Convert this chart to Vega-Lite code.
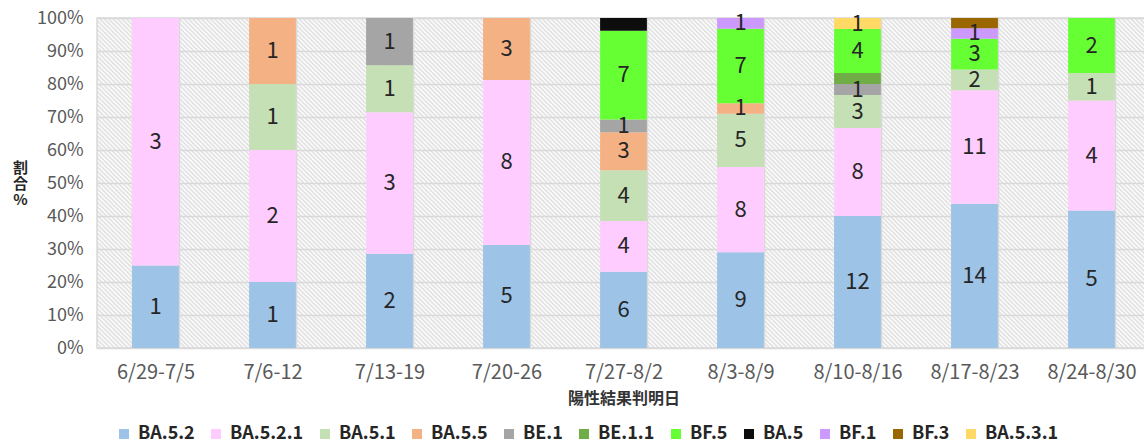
{
  "$schema": "https://vega.github.io/schema/vega-lite/v6.json",
  "width": 1053,
  "height": 330,
  "autosize": {"type": "none"},
  "padding": {"left": 97, "top": 18, "right": -6, "bottom": 96},
  "config": {
    "font": "Noto Sans CJK JP",
    "view": {
      "stroke": "#d9d9d9",
      "strokeWidth": 1.5,
      "fill": {"gradient": "linear", "x1": 0, "y1": 1, "x2": 1.19593, "y2": 0.625204,
        "stops": [
{"offset":0,"color":"#ddd"},{"offset":0.0016,"color":"#fff"},{"offset":0.0032,"color":"#ddd"},{"offset":0.0048,"color":"#fff"},{"offset":0.0064,"color":"#ddd"},{"offset":0.008,"color":"#fff"},{"offset":0.0096,"color":"#ddd"},{"offset":0.0112,"color":"#fff"},{"offset":0.0128,"color":"#ddd"},{"offset":0.0144,"color":"#fff"},
{"offset":0.016,"color":"#ddd"},{"offset":0.0176,"color":"#fff"},{"offset":0.0192,"color":"#ddd"},{"offset":0.0208,"color":"#fff"},{"offset":0.0224,"color":"#ddd"},{"offset":0.024,"color":"#fff"},{"offset":0.0256,"color":"#ddd"},{"offset":0.0272,"color":"#fff"},{"offset":0.0288,"color":"#ddd"},{"offset":0.0304,"color":"#fff"},
{"offset":0.032,"color":"#ddd"},{"offset":0.0336,"color":"#fff"},{"offset":0.0352,"color":"#ddd"},{"offset":0.0368,"color":"#fff"},{"offset":0.0384,"color":"#ddd"},{"offset":0.04,"color":"#fff"},{"offset":0.0416,"color":"#ddd"},{"offset":0.0432,"color":"#fff"},{"offset":0.0448,"color":"#ddd"},{"offset":0.0464,"color":"#fff"},
{"offset":0.048,"color":"#ddd"},{"offset":0.0496,"color":"#fff"},{"offset":0.0512,"color":"#ddd"},{"offset":0.0528,"color":"#fff"},{"offset":0.0544,"color":"#ddd"},{"offset":0.056,"color":"#fff"},{"offset":0.0576,"color":"#ddd"},{"offset":0.0592,"color":"#fff"},{"offset":0.0608,"color":"#ddd"},{"offset":0.0624,"color":"#fff"},
{"offset":0.064,"color":"#ddd"},{"offset":0.0656,"color":"#fff"},{"offset":0.0672,"color":"#ddd"},{"offset":0.0688,"color":"#fff"},{"offset":0.0704,"color":"#ddd"},{"offset":0.072,"color":"#fff"},{"offset":0.0736,"color":"#ddd"},{"offset":0.0752,"color":"#fff"},{"offset":0.0768,"color":"#ddd"},{"offset":0.0784,"color":"#fff"},
{"offset":0.08,"color":"#ddd"},{"offset":0.0816,"color":"#fff"},{"offset":0.0832,"color":"#ddd"},{"offset":0.0848,"color":"#fff"},{"offset":0.0864,"color":"#ddd"},{"offset":0.088,"color":"#fff"},{"offset":0.0896,"color":"#ddd"},{"offset":0.0912,"color":"#fff"},{"offset":0.0928,"color":"#ddd"},{"offset":0.0944,"color":"#fff"},
{"offset":0.096,"color":"#ddd"},{"offset":0.0976,"color":"#fff"},{"offset":0.0992,"color":"#ddd"},{"offset":0.1008,"color":"#fff"},{"offset":0.1024,"color":"#ddd"},{"offset":0.104,"color":"#fff"},{"offset":0.1056,"color":"#ddd"},{"offset":0.1072,"color":"#fff"},{"offset":0.1088,"color":"#ddd"},{"offset":0.1104,"color":"#fff"},
{"offset":0.112,"color":"#ddd"},{"offset":0.1136,"color":"#fff"},{"offset":0.1152,"color":"#ddd"},{"offset":0.1168,"color":"#fff"},{"offset":0.1184,"color":"#ddd"},{"offset":0.12,"color":"#fff"},{"offset":0.1216,"color":"#ddd"},{"offset":0.1232,"color":"#fff"},{"offset":0.1248,"color":"#ddd"},{"offset":0.1264,"color":"#fff"},
{"offset":0.128,"color":"#ddd"},{"offset":0.1296,"color":"#fff"},{"offset":0.1312,"color":"#ddd"},{"offset":0.1328,"color":"#fff"},{"offset":0.1344,"color":"#ddd"},{"offset":0.136,"color":"#fff"},{"offset":0.1376,"color":"#ddd"},{"offset":0.1392,"color":"#fff"},{"offset":0.1408,"color":"#ddd"},{"offset":0.1424,"color":"#fff"},
{"offset":0.144,"color":"#ddd"},{"offset":0.1456,"color":"#fff"},{"offset":0.1472,"color":"#ddd"},{"offset":0.1488,"color":"#fff"},{"offset":0.1504,"color":"#ddd"},{"offset":0.152,"color":"#fff"},{"offset":0.1536,"color":"#ddd"},{"offset":0.1552,"color":"#fff"},{"offset":0.1568,"color":"#ddd"},{"offset":0.1584,"color":"#fff"},
{"offset":0.16,"color":"#ddd"},{"offset":0.1616,"color":"#fff"},{"offset":0.1632,"color":"#ddd"},{"offset":0.1648,"color":"#fff"},{"offset":0.1664,"color":"#ddd"},{"offset":0.168,"color":"#fff"},{"offset":0.1696,"color":"#ddd"},{"offset":0.1712,"color":"#fff"},{"offset":0.1728,"color":"#ddd"},{"offset":0.1744,"color":"#fff"},
{"offset":0.176,"color":"#ddd"},{"offset":0.1776,"color":"#fff"},{"offset":0.1792,"color":"#ddd"},{"offset":0.1808,"color":"#fff"},{"offset":0.1824,"color":"#ddd"},{"offset":0.184,"color":"#fff"},{"offset":0.1856,"color":"#ddd"},{"offset":0.1872,"color":"#fff"},{"offset":0.1888,"color":"#ddd"},{"offset":0.1904,"color":"#fff"},
{"offset":0.192,"color":"#ddd"},{"offset":0.1936,"color":"#fff"},{"offset":0.1952,"color":"#ddd"},{"offset":0.1968,"color":"#fff"},{"offset":0.1984,"color":"#ddd"},{"offset":0.2,"color":"#fff"},{"offset":0.2016,"color":"#ddd"},{"offset":0.2032,"color":"#fff"},{"offset":0.2048,"color":"#ddd"},{"offset":0.2064,"color":"#fff"},
{"offset":0.208,"color":"#ddd"},{"offset":0.2096,"color":"#fff"},{"offset":0.2112,"color":"#ddd"},{"offset":0.2128,"color":"#fff"},{"offset":0.2144,"color":"#ddd"},{"offset":0.216,"color":"#fff"},{"offset":0.2176,"color":"#ddd"},{"offset":0.2192,"color":"#fff"},{"offset":0.2208,"color":"#ddd"},{"offset":0.2224,"color":"#fff"},
{"offset":0.224,"color":"#ddd"},{"offset":0.2256,"color":"#fff"},{"offset":0.2272,"color":"#ddd"},{"offset":0.2288,"color":"#fff"},{"offset":0.2304,"color":"#ddd"},{"offset":0.232,"color":"#fff"},{"offset":0.2336,"color":"#ddd"},{"offset":0.2352,"color":"#fff"},{"offset":0.2368,"color":"#ddd"},{"offset":0.2384,"color":"#fff"},
{"offset":0.24,"color":"#ddd"},{"offset":0.2416,"color":"#fff"},{"offset":0.2432,"color":"#ddd"},{"offset":0.2448,"color":"#fff"},{"offset":0.2464,"color":"#ddd"},{"offset":0.248,"color":"#fff"},{"offset":0.2496,"color":"#ddd"},{"offset":0.2512,"color":"#fff"},{"offset":0.2528,"color":"#ddd"},{"offset":0.2544,"color":"#fff"},
{"offset":0.256,"color":"#ddd"},{"offset":0.2576,"color":"#fff"},{"offset":0.2592,"color":"#ddd"},{"offset":0.2608,"color":"#fff"},{"offset":0.2624,"color":"#ddd"},{"offset":0.264,"color":"#fff"},{"offset":0.2656,"color":"#ddd"},{"offset":0.2672,"color":"#fff"},{"offset":0.2688,"color":"#ddd"},{"offset":0.2704,"color":"#fff"},
{"offset":0.272,"color":"#ddd"},{"offset":0.2736,"color":"#fff"},{"offset":0.2752,"color":"#ddd"},{"offset":0.2768,"color":"#fff"},{"offset":0.2784,"color":"#ddd"},{"offset":0.28,"color":"#fff"},{"offset":0.2816,"color":"#ddd"},{"offset":0.2832,"color":"#fff"},{"offset":0.2848,"color":"#ddd"},{"offset":0.2864,"color":"#fff"},
{"offset":0.288,"color":"#ddd"},{"offset":0.2896,"color":"#fff"},{"offset":0.2912,"color":"#ddd"},{"offset":0.2928,"color":"#fff"},{"offset":0.2944,"color":"#ddd"},{"offset":0.296,"color":"#fff"},{"offset":0.2976,"color":"#ddd"},{"offset":0.2992,"color":"#fff"},{"offset":0.3008,"color":"#ddd"},{"offset":0.3024,"color":"#fff"},
{"offset":0.304,"color":"#ddd"},{"offset":0.3056,"color":"#fff"},{"offset":0.3072,"color":"#ddd"},{"offset":0.3088,"color":"#fff"},{"offset":0.3104,"color":"#ddd"},{"offset":0.312,"color":"#fff"},{"offset":0.3136,"color":"#ddd"},{"offset":0.3152,"color":"#fff"},{"offset":0.3168,"color":"#ddd"},{"offset":0.3184,"color":"#fff"},
{"offset":0.32,"color":"#ddd"},{"offset":0.3216,"color":"#fff"},{"offset":0.3232,"color":"#ddd"},{"offset":0.3248,"color":"#fff"},{"offset":0.3264,"color":"#ddd"},{"offset":0.328,"color":"#fff"},{"offset":0.3296,"color":"#ddd"},{"offset":0.3312,"color":"#fff"},{"offset":0.3328,"color":"#ddd"},{"offset":0.3344,"color":"#fff"},
{"offset":0.336,"color":"#ddd"},{"offset":0.3376,"color":"#fff"},{"offset":0.3392,"color":"#ddd"},{"offset":0.3408,"color":"#fff"},{"offset":0.3424,"color":"#ddd"},{"offset":0.344,"color":"#fff"},{"offset":0.3456,"color":"#ddd"},{"offset":0.3472,"color":"#fff"},{"offset":0.3488,"color":"#ddd"},{"offset":0.3504,"color":"#fff"},
{"offset":0.352,"color":"#ddd"},{"offset":0.3536,"color":"#fff"},{"offset":0.3552,"color":"#ddd"},{"offset":0.3568,"color":"#fff"},{"offset":0.3584,"color":"#ddd"},{"offset":0.36,"color":"#fff"},{"offset":0.3616,"color":"#ddd"},{"offset":0.3632,"color":"#fff"},{"offset":0.3648,"color":"#ddd"},{"offset":0.3664,"color":"#fff"},
{"offset":0.368,"color":"#ddd"},{"offset":0.3696,"color":"#fff"},{"offset":0.3712,"color":"#ddd"},{"offset":0.3728,"color":"#fff"},{"offset":0.3744,"color":"#ddd"},{"offset":0.376,"color":"#fff"},{"offset":0.3776,"color":"#ddd"},{"offset":0.3792,"color":"#fff"},{"offset":0.3808,"color":"#ddd"},{"offset":0.3824,"color":"#fff"},
{"offset":0.384,"color":"#ddd"},{"offset":0.3856,"color":"#fff"},{"offset":0.3872,"color":"#ddd"},{"offset":0.3888,"color":"#fff"},{"offset":0.3904,"color":"#ddd"},{"offset":0.392,"color":"#fff"},{"offset":0.3936,"color":"#ddd"},{"offset":0.3952,"color":"#fff"},{"offset":0.3968,"color":"#ddd"},{"offset":0.3984,"color":"#fff"},
{"offset":0.4,"color":"#ddd"},{"offset":0.4016,"color":"#fff"},{"offset":0.4032,"color":"#ddd"},{"offset":0.4048,"color":"#fff"},{"offset":0.4064,"color":"#ddd"},{"offset":0.408,"color":"#fff"},{"offset":0.4096,"color":"#ddd"},{"offset":0.4112,"color":"#fff"},{"offset":0.4128,"color":"#ddd"},{"offset":0.4144,"color":"#fff"},
{"offset":0.416,"color":"#ddd"},{"offset":0.4176,"color":"#fff"},{"offset":0.4192,"color":"#ddd"},{"offset":0.4208,"color":"#fff"},{"offset":0.4224,"color":"#ddd"},{"offset":0.424,"color":"#fff"},{"offset":0.4256,"color":"#ddd"},{"offset":0.4272,"color":"#fff"},{"offset":0.4288,"color":"#ddd"},{"offset":0.4304,"color":"#fff"},
{"offset":0.432,"color":"#ddd"},{"offset":0.4336,"color":"#fff"},{"offset":0.4352,"color":"#ddd"},{"offset":0.4368,"color":"#fff"},{"offset":0.4384,"color":"#ddd"},{"offset":0.44,"color":"#fff"},{"offset":0.4416,"color":"#ddd"},{"offset":0.4432,"color":"#fff"},{"offset":0.4448,"color":"#ddd"},{"offset":0.4464,"color":"#fff"},
{"offset":0.448,"color":"#ddd"},{"offset":0.4496,"color":"#fff"},{"offset":0.4512,"color":"#ddd"},{"offset":0.4528,"color":"#fff"},{"offset":0.4544,"color":"#ddd"},{"offset":0.456,"color":"#fff"},{"offset":0.4576,"color":"#ddd"},{"offset":0.4592,"color":"#fff"},{"offset":0.4608,"color":"#ddd"},{"offset":0.4624,"color":"#fff"},
{"offset":0.464,"color":"#ddd"},{"offset":0.4656,"color":"#fff"},{"offset":0.4672,"color":"#ddd"},{"offset":0.4688,"color":"#fff"},{"offset":0.4704,"color":"#ddd"},{"offset":0.472,"color":"#fff"},{"offset":0.4736,"color":"#ddd"},{"offset":0.4752,"color":"#fff"},{"offset":0.4768,"color":"#ddd"},{"offset":0.4784,"color":"#fff"},
{"offset":0.48,"color":"#ddd"},{"offset":0.4816,"color":"#fff"},{"offset":0.4832,"color":"#ddd"},{"offset":0.4848,"color":"#fff"},{"offset":0.4864,"color":"#ddd"},{"offset":0.488,"color":"#fff"},{"offset":0.4896,"color":"#ddd"},{"offset":0.4912,"color":"#fff"},{"offset":0.4928,"color":"#ddd"},{"offset":0.4944,"color":"#fff"},
{"offset":0.496,"color":"#ddd"},{"offset":0.4976,"color":"#fff"},{"offset":0.4992,"color":"#ddd"},{"offset":0.5008,"color":"#fff"},{"offset":0.5024,"color":"#ddd"},{"offset":0.504,"color":"#fff"},{"offset":0.5056,"color":"#ddd"},{"offset":0.5072,"color":"#fff"},{"offset":0.5088,"color":"#ddd"},{"offset":0.5104,"color":"#fff"},
{"offset":0.512,"color":"#ddd"},{"offset":0.5136,"color":"#fff"},{"offset":0.5152,"color":"#ddd"},{"offset":0.5168,"color":"#fff"},{"offset":0.5184,"color":"#ddd"},{"offset":0.52,"color":"#fff"},{"offset":0.5216,"color":"#ddd"},{"offset":0.5232,"color":"#fff"},{"offset":0.5248,"color":"#ddd"},{"offset":0.5264,"color":"#fff"},
{"offset":0.528,"color":"#ddd"},{"offset":0.5296,"color":"#fff"},{"offset":0.5312,"color":"#ddd"},{"offset":0.5328,"color":"#fff"},{"offset":0.5344,"color":"#ddd"},{"offset":0.536,"color":"#fff"},{"offset":0.5376,"color":"#ddd"},{"offset":0.5392,"color":"#fff"},{"offset":0.5408,"color":"#ddd"},{"offset":0.5424,"color":"#fff"},
{"offset":0.544,"color":"#ddd"},{"offset":0.5456,"color":"#fff"},{"offset":0.5472,"color":"#ddd"},{"offset":0.5488,"color":"#fff"},{"offset":0.5504,"color":"#ddd"},{"offset":0.552,"color":"#fff"},{"offset":0.5536,"color":"#ddd"},{"offset":0.5552,"color":"#fff"},{"offset":0.5568,"color":"#ddd"},{"offset":0.5584,"color":"#fff"},
{"offset":0.56,"color":"#ddd"},{"offset":0.5616,"color":"#fff"},{"offset":0.5632,"color":"#ddd"},{"offset":0.5648,"color":"#fff"},{"offset":0.5664,"color":"#ddd"},{"offset":0.568,"color":"#fff"},{"offset":0.5696,"color":"#ddd"},{"offset":0.5712,"color":"#fff"},{"offset":0.5728,"color":"#ddd"},{"offset":0.5744,"color":"#fff"},
{"offset":0.576,"color":"#ddd"},{"offset":0.5776,"color":"#fff"},{"offset":0.5792,"color":"#ddd"},{"offset":0.5808,"color":"#fff"},{"offset":0.5824,"color":"#ddd"},{"offset":0.584,"color":"#fff"},{"offset":0.5856,"color":"#ddd"},{"offset":0.5872,"color":"#fff"},{"offset":0.5888,"color":"#ddd"},{"offset":0.5904,"color":"#fff"},
{"offset":0.592,"color":"#ddd"},{"offset":0.5936,"color":"#fff"},{"offset":0.5952,"color":"#ddd"},{"offset":0.5968,"color":"#fff"},{"offset":0.5984,"color":"#ddd"},{"offset":0.6,"color":"#fff"},{"offset":0.6016,"color":"#ddd"},{"offset":0.6032,"color":"#fff"},{"offset":0.6048,"color":"#ddd"},{"offset":0.6064,"color":"#fff"},
{"offset":0.608,"color":"#ddd"},{"offset":0.6096,"color":"#fff"},{"offset":0.6112,"color":"#ddd"},{"offset":0.6128,"color":"#fff"},{"offset":0.6144,"color":"#ddd"},{"offset":0.616,"color":"#fff"},{"offset":0.6176,"color":"#ddd"},{"offset":0.6192,"color":"#fff"},{"offset":0.6208,"color":"#ddd"},{"offset":0.6224,"color":"#fff"},
{"offset":0.624,"color":"#ddd"},{"offset":0.6256,"color":"#fff"},{"offset":0.6272,"color":"#ddd"},{"offset":0.6288,"color":"#fff"},{"offset":0.6304,"color":"#ddd"},{"offset":0.632,"color":"#fff"},{"offset":0.6336,"color":"#ddd"},{"offset":0.6352,"color":"#fff"},{"offset":0.6368,"color":"#ddd"},{"offset":0.6384,"color":"#fff"},
{"offset":0.64,"color":"#ddd"},{"offset":0.6416,"color":"#fff"},{"offset":0.6432,"color":"#ddd"},{"offset":0.6448,"color":"#fff"},{"offset":0.6464,"color":"#ddd"},{"offset":0.648,"color":"#fff"},{"offset":0.6496,"color":"#ddd"},{"offset":0.6512,"color":"#fff"},{"offset":0.6528,"color":"#ddd"},{"offset":0.6544,"color":"#fff"},
{"offset":0.656,"color":"#ddd"},{"offset":0.6576,"color":"#fff"},{"offset":0.6592,"color":"#ddd"},{"offset":0.6608,"color":"#fff"},{"offset":0.6624,"color":"#ddd"},{"offset":0.664,"color":"#fff"},{"offset":0.6656,"color":"#ddd"},{"offset":0.6672,"color":"#fff"},{"offset":0.6688,"color":"#ddd"},{"offset":0.6704,"color":"#fff"},
{"offset":0.672,"color":"#ddd"},{"offset":0.6736,"color":"#fff"},{"offset":0.6752,"color":"#ddd"},{"offset":0.6768,"color":"#fff"},{"offset":0.6784,"color":"#ddd"},{"offset":0.68,"color":"#fff"},{"offset":0.6816,"color":"#ddd"},{"offset":0.6832,"color":"#fff"},{"offset":0.6848,"color":"#ddd"},{"offset":0.6864,"color":"#fff"},
{"offset":0.688,"color":"#ddd"},{"offset":0.6896,"color":"#fff"},{"offset":0.6912,"color":"#ddd"},{"offset":0.6928,"color":"#fff"},{"offset":0.6944,"color":"#ddd"},{"offset":0.696,"color":"#fff"},{"offset":0.6976,"color":"#ddd"},{"offset":0.6992,"color":"#fff"},{"offset":0.7008,"color":"#ddd"},{"offset":0.7024,"color":"#fff"},
{"offset":0.704,"color":"#ddd"},{"offset":0.7056,"color":"#fff"},{"offset":0.7072,"color":"#ddd"},{"offset":0.7088,"color":"#fff"},{"offset":0.7104,"color":"#ddd"},{"offset":0.712,"color":"#fff"},{"offset":0.7136,"color":"#ddd"},{"offset":0.7152,"color":"#fff"},{"offset":0.7168,"color":"#ddd"},{"offset":0.7184,"color":"#fff"},
{"offset":0.72,"color":"#ddd"},{"offset":0.7216,"color":"#fff"},{"offset":0.7232,"color":"#ddd"},{"offset":0.7248,"color":"#fff"},{"offset":0.7264,"color":"#ddd"},{"offset":0.728,"color":"#fff"},{"offset":0.7296,"color":"#ddd"},{"offset":0.7312,"color":"#fff"},{"offset":0.7328,"color":"#ddd"},{"offset":0.7344,"color":"#fff"},
{"offset":0.736,"color":"#ddd"},{"offset":0.7376,"color":"#fff"},{"offset":0.7392,"color":"#ddd"},{"offset":0.7408,"color":"#fff"},{"offset":0.7424,"color":"#ddd"},{"offset":0.744,"color":"#fff"},{"offset":0.7456,"color":"#ddd"},{"offset":0.7472,"color":"#fff"},{"offset":0.7488,"color":"#ddd"},{"offset":0.7504,"color":"#fff"},
{"offset":0.752,"color":"#ddd"},{"offset":0.7536,"color":"#fff"},{"offset":0.7552,"color":"#ddd"},{"offset":0.7568,"color":"#fff"},{"offset":0.7584,"color":"#ddd"},{"offset":0.76,"color":"#fff"},{"offset":0.7616,"color":"#ddd"},{"offset":0.7632,"color":"#fff"},{"offset":0.7648,"color":"#ddd"},{"offset":0.7664,"color":"#fff"},
{"offset":0.768,"color":"#ddd"},{"offset":0.7696,"color":"#fff"},{"offset":0.7712,"color":"#ddd"},{"offset":0.7728,"color":"#fff"},{"offset":0.7744,"color":"#ddd"},{"offset":0.776,"color":"#fff"},{"offset":0.7776,"color":"#ddd"},{"offset":0.7792,"color":"#fff"},{"offset":0.7808,"color":"#ddd"},{"offset":0.7824,"color":"#fff"},
{"offset":0.784,"color":"#ddd"},{"offset":0.7856,"color":"#fff"},{"offset":0.7872,"color":"#ddd"},{"offset":0.7888,"color":"#fff"},{"offset":0.7904,"color":"#ddd"},{"offset":0.792,"color":"#fff"},{"offset":0.7936,"color":"#ddd"},{"offset":0.7952,"color":"#fff"},{"offset":0.7968,"color":"#ddd"},{"offset":0.7984,"color":"#fff"},
{"offset":0.8,"color":"#ddd"},{"offset":0.8016,"color":"#fff"},{"offset":0.8032,"color":"#ddd"},{"offset":0.8048,"color":"#fff"},{"offset":0.8064,"color":"#ddd"},{"offset":0.808,"color":"#fff"},{"offset":0.8096,"color":"#ddd"},{"offset":0.8112,"color":"#fff"},{"offset":0.8128,"color":"#ddd"},{"offset":0.8144,"color":"#fff"},
{"offset":0.816,"color":"#ddd"},{"offset":0.8176,"color":"#fff"},{"offset":0.8192,"color":"#ddd"},{"offset":0.8208,"color":"#fff"},{"offset":0.8224,"color":"#ddd"},{"offset":0.824,"color":"#fff"},{"offset":0.8256,"color":"#ddd"},{"offset":0.8272,"color":"#fff"},{"offset":0.8288,"color":"#ddd"},{"offset":0.8304,"color":"#fff"},
{"offset":0.832,"color":"#ddd"},{"offset":0.8336,"color":"#fff"},{"offset":0.8352,"color":"#ddd"},{"offset":0.8368,"color":"#fff"},{"offset":0.8384,"color":"#ddd"},{"offset":0.84,"color":"#fff"},{"offset":0.8416,"color":"#ddd"},{"offset":0.8432,"color":"#fff"},{"offset":0.8448,"color":"#ddd"},{"offset":0.8464,"color":"#fff"},
{"offset":0.848,"color":"#ddd"},{"offset":0.8496,"color":"#fff"},{"offset":0.8512,"color":"#ddd"},{"offset":0.8528,"color":"#fff"},{"offset":0.8544,"color":"#ddd"},{"offset":0.856,"color":"#fff"},{"offset":0.8576,"color":"#ddd"},{"offset":0.8592,"color":"#fff"},{"offset":0.8608,"color":"#ddd"},{"offset":0.8624,"color":"#fff"},
{"offset":0.864,"color":"#ddd"},{"offset":0.8656,"color":"#fff"},{"offset":0.8672,"color":"#ddd"},{"offset":0.8688,"color":"#fff"},{"offset":0.8704,"color":"#ddd"},{"offset":0.872,"color":"#fff"},{"offset":0.8736,"color":"#ddd"},{"offset":0.8752,"color":"#fff"},{"offset":0.8768,"color":"#ddd"},{"offset":0.8784,"color":"#fff"},
{"offset":0.88,"color":"#ddd"},{"offset":0.8816,"color":"#fff"},{"offset":0.8832,"color":"#ddd"},{"offset":0.8848,"color":"#fff"},{"offset":0.8864,"color":"#ddd"},{"offset":0.888,"color":"#fff"},{"offset":0.8896,"color":"#ddd"},{"offset":0.8912,"color":"#fff"},{"offset":0.8928,"color":"#ddd"},{"offset":0.8944,"color":"#fff"},
{"offset":0.896,"color":"#ddd"},{"offset":0.8976,"color":"#fff"},{"offset":0.8992,"color":"#ddd"},{"offset":0.9008,"color":"#fff"},{"offset":0.9024,"color":"#ddd"},{"offset":0.904,"color":"#fff"},{"offset":0.9056,"color":"#ddd"},{"offset":0.9072,"color":"#fff"},{"offset":0.9088,"color":"#ddd"},{"offset":0.9104,"color":"#fff"},
{"offset":0.912,"color":"#ddd"},{"offset":0.9136,"color":"#fff"},{"offset":0.9152,"color":"#ddd"},{"offset":0.9168,"color":"#fff"},{"offset":0.9184,"color":"#ddd"},{"offset":0.92,"color":"#fff"},{"offset":0.9216,"color":"#ddd"},{"offset":0.9232,"color":"#fff"},{"offset":0.9248,"color":"#ddd"},{"offset":0.9264,"color":"#fff"},
{"offset":0.928,"color":"#ddd"},{"offset":0.9296,"color":"#fff"},{"offset":0.9312,"color":"#ddd"},{"offset":0.9328,"color":"#fff"},{"offset":0.9344,"color":"#ddd"},{"offset":0.936,"color":"#fff"},{"offset":0.9376,"color":"#ddd"},{"offset":0.9392,"color":"#fff"},{"offset":0.9408,"color":"#ddd"},{"offset":0.9424,"color":"#fff"},
{"offset":0.944,"color":"#ddd"},{"offset":0.9456,"color":"#fff"},{"offset":0.9472,"color":"#ddd"},{"offset":0.9488,"color":"#fff"},{"offset":0.9504,"color":"#ddd"},{"offset":0.952,"color":"#fff"},{"offset":0.9536,"color":"#ddd"},{"offset":0.9552,"color":"#fff"},{"offset":0.9568,"color":"#ddd"},{"offset":0.9584,"color":"#fff"},
{"offset":0.96,"color":"#ddd"},{"offset":0.9616,"color":"#fff"},{"offset":0.9632,"color":"#ddd"},{"offset":0.9648,"color":"#fff"},{"offset":0.9664,"color":"#ddd"},{"offset":0.968,"color":"#fff"},{"offset":0.9696,"color":"#ddd"},{"offset":0.9712,"color":"#fff"},{"offset":0.9728,"color":"#ddd"},{"offset":0.9744,"color":"#fff"},
{"offset":0.976,"color":"#ddd"},{"offset":0.9776,"color":"#fff"},{"offset":0.9792,"color":"#ddd"},{"offset":0.9808,"color":"#fff"},{"offset":0.9824,"color":"#ddd"},{"offset":0.984,"color":"#fff"},{"offset":0.9856,"color":"#ddd"},{"offset":0.9872,"color":"#fff"},{"offset":0.9888,"color":"#ddd"},{"offset":0.9904,"color":"#fff"},
{"offset":0.992,"color":"#ddd"},{"offset":0.9936,"color":"#fff"},{"offset":0.9952,"color":"#ddd"},{"offset":0.9968,"color":"#fff"},{"offset":0.9984,"color":"#ddd"},{"offset":1,"color":"#fff"}
        ]}
    },
    "axisY": {
      "labelFontSize": 18, "labelColor": "#595959", "labelPadding": 14, "labelOverlap": false,
      "ticks": false, "domain": false, "grid": true, "gridColor": "#d9d9d9", "gridWidth": 1.5,
      "titleAngle": 0, "titleX": -77, "titleY": 142,
      "titleAlign": "center", "titleBaseline": "top", "titleFontSize": 15,
      "titleFontWeight": "bold", "titleColor": "#262626", "titleLineHeight": 16
    },
    "legend": {
      "orient": "none", "legendX": 18, "legendY": 407, "direction": "horizontal", "columns": 11,
      "symbolType": "square", "symbolSize": 100, "symbolStrokeWidth": 0,
      "labelFontSize": 18, "labelFontWeight": "bold", "labelColor": "#262626",
      "columnPadding": 12, "labelOffset": 5, "title": null
    }
  },
  "data": {"values": [
    {"w": "6/29-7/5", "v": "BA.5.2", "n": 1, "o": 1},
    {"w": "6/29-7/5", "v": "BA.5.2.1", "n": 3, "o": 2},
    {"w": "7/6-12", "v": "BA.5.2", "n": 1, "o": 1},
    {"w": "7/6-12", "v": "BA.5.2.1", "n": 2, "o": 2},
    {"w": "7/6-12", "v": "BA.5.1", "n": 1, "o": 3},
    {"w": "7/6-12", "v": "BA.5.5", "n": 1, "o": 4},
    {"w": "7/13-19", "v": "BA.5.2", "n": 2, "o": 1},
    {"w": "7/13-19", "v": "BA.5.2.1", "n": 3, "o": 2},
    {"w": "7/13-19", "v": "BA.5.1", "n": 1, "o": 3},
    {"w": "7/13-19", "v": "BE.1", "n": 1, "o": 5},
    {"w": "7/20-26", "v": "BA.5.2", "n": 5, "o": 1},
    {"w": "7/20-26", "v": "BA.5.2.1", "n": 8, "o": 2},
    {"w": "7/20-26", "v": "BA.5.5", "n": 3, "o": 4},
    {"w": "7/27-8/2", "v": "BA.5.2", "n": 6, "o": 1},
    {"w": "7/27-8/2", "v": "BA.5.2.1", "n": 4, "o": 2},
    {"w": "7/27-8/2", "v": "BA.5.1", "n": 4, "o": 3},
    {"w": "7/27-8/2", "v": "BA.5.5", "n": 3, "o": 4},
    {"w": "7/27-8/2", "v": "BE.1", "n": 1, "o": 5},
    {"w": "7/27-8/2", "v": "BF.5", "n": 7, "o": 7},
    {"w": "7/27-8/2", "v": "BA.5", "n": 1, "o": 8},
    {"w": "8/3-8/9", "v": "BA.5.2", "n": 9, "o": 1},
    {"w": "8/3-8/9", "v": "BA.5.2.1", "n": 8, "o": 2},
    {"w": "8/3-8/9", "v": "BA.5.1", "n": 5, "o": 3},
    {"w": "8/3-8/9", "v": "BA.5.5", "n": 1, "o": 4},
    {"w": "8/3-8/9", "v": "BF.5", "n": 7, "o": 7},
    {"w": "8/3-8/9", "v": "BF.1", "n": 1, "o": 9},
    {"w": "8/10-8/16", "v": "BA.5.2", "n": 12, "o": 1},
    {"w": "8/10-8/16", "v": "BA.5.2.1", "n": 8, "o": 2},
    {"w": "8/10-8/16", "v": "BA.5.1", "n": 3, "o": 3},
    {"w": "8/10-8/16", "v": "BE.1", "n": 1, "o": 5},
    {"w": "8/10-8/16", "v": "BE.1.1", "n": 1, "o": 6},
    {"w": "8/10-8/16", "v": "BF.5", "n": 4, "o": 7},
    {"w": "8/10-8/16", "v": "BA.5.3.1", "n": 1, "o": 11},
    {"w": "8/17-8/23", "v": "BA.5.2", "n": 14, "o": 1},
    {"w": "8/17-8/23", "v": "BA.5.2.1", "n": 11, "o": 2},
    {"w": "8/17-8/23", "v": "BA.5.1", "n": 2, "o": 3},
    {"w": "8/17-8/23", "v": "BF.5", "n": 3, "o": 7},
    {"w": "8/17-8/23", "v": "BF.1", "n": 1, "o": 9},
    {"w": "8/17-8/23", "v": "BF.3", "n": 1, "o": 10},
    {"w": "8/24-8/30", "v": "BA.5.2", "n": 5, "o": 1},
    {"w": "8/24-8/30", "v": "BA.5.2.1", "n": 4, "o": 2},
    {"w": "8/24-8/30", "v": "BA.5.1", "n": 1, "o": 3},
    {"w": "8/24-8/30", "v": "BF.5", "n": 2, "o": 7}
  ]},
  "encoding": {
    "x": {
      "field": "w", "type": "nominal", "sort": null,
      "scale": {"paddingInner": 0.6, "paddingOuter": 0.3},
      "axis": {
        "labelAngle": 0, "labelFontSize": 20, "labelColor": "#595959", "labelPadding": 14,
        "ticks": false, "domain": false, "grid": true, "gridColor": "#d9d9d9", "gridWidth": 1.5,
        "tickBand": "extent",
        "title": "陽性結果判明日", "titleFontSize": 16, "titleFontWeight": "bold", "titleColor": "#333333",
        "titleY": 50, "titleBaseline": "middle"
      }
    }
  },
  "layer": [
    {
      "mark": {"type": "bar"},
      "encoding": {
        "y": {
          "field": "n", "type": "quantitative", "stack": "normalize",
          "scale": {"domain": [0, 1]},
          "axis": {"values": [0, 0.1, 0.2, 0.3, 0.4, 0.5, 0.6, 0.7, 0.8, 0.9, 1], "format": ".0%", "title": ["割", "合", "%"]}
        },
        "color": {
          "field": "v", "type": "nominal",
          "scale": {
            "domain": ["BA.5.2", "BA.5.2.1", "BA.5.1", "BA.5.5", "BE.1", "BE.1.1", "BF.5", "BA.5", "BF.1", "BF.3", "BA.5.3.1"],
            "range": ["#9dc3e6", "#ffccff", "#c5e0b4", "#f4b183", "#a5a5a5", "#70ad47", "#66ff33", "#0d0d0d", "#cc99ff", "#996600", "#ffd966"]
          }
        },
        "order": {"field": "o", "type": "quantitative"}
      }
    },
    {
      "mark": {"type": "text", "fontSize": 22, "color": "#262626", "baseline": "middle"},
      "encoding": {
        "y": {
          "field": "n", "type": "quantitative", "stack": "normalize", "bandPosition": 0.5,
          "axis": {"values": [0, 0.1, 0.2, 0.3, 0.4, 0.5, 0.6, 0.7, 0.8, 0.9, 1], "format": ".0%", "title": ["割", "合", "%"]}
        },
        "text": {"field": "n", "type": "quantitative"},
        "order": {"field": "o", "type": "quantitative"},
        "opacity": {"condition": {"test": "indexof(['BA.5','BE.1.1','BF.3'], datum.v) >= 0", "value": 0}, "value": 1}
      }
    }
  ]
}
